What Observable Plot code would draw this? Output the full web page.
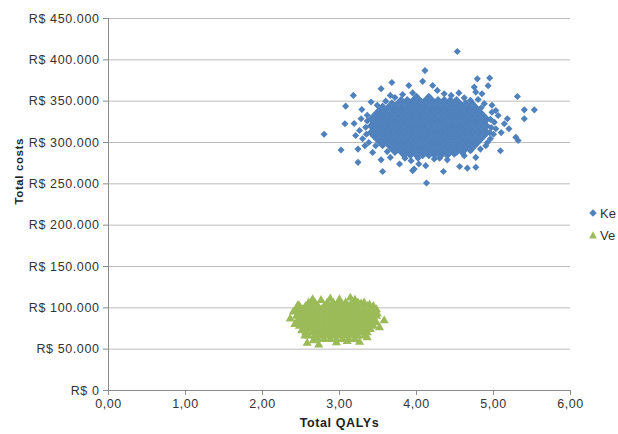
<!DOCTYPE html>
<html><head><meta charset="utf-8">
<script src="https://cdn.jsdelivr.net/npm/d3@7"></script>
<script src="https://cdn.jsdelivr.net/npm/@observablehq/plot@0.6"></script>
<style>
html,body{margin:0;padding:0;background:#fff;overflow:hidden;width:618px;height:434px}
#wrap{position:relative;width:618px;height:434px;overflow:hidden}
.legend{position:absolute;left:588px;font:13px "Liberation Sans",Arial,sans-serif;color:#333;white-space:nowrap;display:flex;align-items:center;height:14px}
.legend svg{margin-right:2px;flex:none}
</style></head><body><div id="wrap"></div>
<script>
const seriesNames = ["Ke", "Ve"];
const seriesColors = ["#4F81BD", "#9BBB59"];
const xTicks = [0, 1, 2, 3, 4, 5, 6];
const yTicks = [0, 50000, 100000, 150000, 200000, 250000, 300000, 350000, 400000, 450000];
const xTitle = "Total QALYs";
const yTitle = "Total costs";

// Series 1 (diamonds): dense core, rows of [cost, QALYs...]
const keCoreRows = [
 [352000, [3.80,3.88,3.96,4.04,4.12,4.20,4.28,4.36,4.44,4.52]],
 [348000, [3.68,3.76,3.84,3.92,4.00,4.08,4.16,4.24,4.32,4.40,4.48,4.56,4.64,4.72]],
 [344000, [3.56,3.64,3.72,3.80,3.88,3.96,4.04,4.12,4.20,4.28,4.36,4.44,4.52,4.60,4.68,4.76]],
 [340000, [3.52,3.60,3.68,3.76,3.84,3.92,4.00,4.08,4.16,4.24,4.32,4.40,4.48,4.56,4.64,4.72,4.80]],
 [336000, [3.48,3.56,3.64,3.72,3.80,3.88,3.96,4.04,4.12,4.20,4.28,4.36,4.44,4.52,4.60,4.68,4.76,4.84]],
 [332000, [3.44,3.52,3.60,3.68,3.76,3.84,3.92,4.00,4.08,4.16,4.24,4.32,4.40,4.48,4.56,4.64,4.72,4.80,4.88]],
 [328000, [3.40,3.48,3.56,3.64,3.72,3.80,3.88,3.96,4.04,4.12,4.20,4.28,4.36,4.44,4.52,4.60,4.68,4.76,4.84,4.92]],
 [324000, [3.44,3.52,3.60,3.68,3.76,3.84,3.92,4.00,4.08,4.16,4.24,4.32,4.40,4.48,4.56,4.64,4.72,4.80,4.88]],
 [320000, [3.40,3.48,3.56,3.64,3.72,3.80,3.88,3.96,4.04,4.12,4.20,4.28,4.36,4.44,4.52,4.60,4.68,4.76,4.84,4.92]],
 [316000, [3.44,3.52,3.60,3.68,3.76,3.84,3.92,4.00,4.08,4.16,4.24,4.32,4.40,4.48,4.56,4.64,4.72,4.80,4.88]],
 [312000, [3.40,3.48,3.56,3.64,3.72,3.80,3.88,3.96,4.04,4.12,4.20,4.28,4.36,4.44,4.52,4.60,4.68,4.76,4.84,4.92]],
 [308000, [3.44,3.52,3.60,3.68,3.76,3.84,3.92,4.00,4.08,4.16,4.24,4.32,4.40,4.48,4.56,4.64,4.72,4.80,4.88]],
 [304000, [3.48,3.56,3.64,3.72,3.80,3.88,3.96,4.04,4.12,4.20,4.28,4.36,4.44,4.52,4.60,4.68,4.76,4.84]],
 [300000, [3.52,3.60,3.68,3.76,3.84,3.92,4.00,4.08,4.16,4.24,4.32,4.40,4.48,4.56,4.64,4.72,4.80]],
 [296000, [3.56,3.64,3.72,3.80,3.88,3.96,4.04,4.12,4.20,4.28,4.36,4.44,4.52,4.60,4.68,4.76]],
 [292000, [3.68,3.76,3.84,3.92,4.00,4.08,4.16,4.24,4.32,4.40,4.48,4.56,4.64,4.72]],
 [288000, [3.72,3.80,3.88,3.96,4.04,4.12,4.20,4.28,4.36,4.44,4.52,4.60]],
 [284000, [3.84,3.92,4.00,4.08,4.16,4.24,4.32,4.40]]
];
// Series 1 scattered points [QALYs, cost]
const keOuter = [
 [4.53,410000],[4.11,387000],[4.08,374000],[3.68,372500],[3.90,369000],[3.54,365000],
 [3.66,357000],[3.18,357000],[3.08,344000],[3.29,340000],[3.41,349000],[3.49,345000],
 [4.21,369000],[4.27,363000],[4.36,359000],[4.55,360000],[4.79,377000],[4.95,378000],
 [4.93,368600],[4.75,367000],[4.77,361000],[4.85,359000],[5.31,355600],[3.95,360000],
 [4.00,356000],[3.82,358000],[4.16,356000],[4.45,357000],[3.72,354500],[4.62,354000],
 [4.70,351000],[3.60,350000],[4.80,352000],[4.88,347000],[4.84,342000],[4.98,345000],
 [3.07,322600],[3.19,323000],[3.28,328700],[3.34,318500],[2.80,310000],[3.26,314500],
 [3.21,308500],[3.30,304500],[3.24,292000],[3.02,291000],[3.43,288000],[3.54,279000],
 [3.24,276000],[3.33,296000],[3.36,333000],[3.36,326000],[3.35,310000],[3.38,300000],
 [3.47,296000],[3.78,274000],[3.56,265000],[3.93,278000],[3.95,266000],[4.03,274000],
 [4.13,251000],[4.35,265000],[4.12,272000],[3.97,268000],[4.23,280000],[4.56,271000],
 [4.66,269000],[4.77,270000],[4.62,284000],[4.49,286000],[4.77,282000],[4.83,292000],
 [3.66,282000],[3.85,281000],[4.40,279000],[3.62,289000],[4.70,290000],[4.30,281000],
 [4.02,281000],[4.60,287000],[5.40,339500],[5.53,339500],[5.40,328700],[5.03,338700],
 [5.06,332700],[5.18,328700],[5.14,322600],[5.01,324600],[5.03,316600],[5.20,316600],
 [5.29,306400],[5.32,302400],[4.96,304500],[5.09,290000],[5.00,310000],[5.10,312000],
 [4.98,336600],[4.96,328000],[4.97,318000],[4.95,312000],[4.92,300000],[4.90,296000]
];

// Series 2 (triangles): dense core rows of [cost, QALYs...]
const veCoreRows = [
 [106000, [2.60,2.68,2.84,2.92,3.00,3.08,3.16,3.24,3.32]],
 [102000, [2.48,2.56,2.64,2.72,2.80,2.88,2.96,3.04,3.12,3.20,3.28,3.36,3.44]],
 [98000,  [2.44,2.52,2.60,2.68,2.76,2.84,2.92,3.00,3.08,3.16,3.24,3.32,3.40,3.48]],
 [94000,  [2.48,2.56,2.64,2.72,2.80,2.88,2.96,3.04,3.12,3.20,3.28,3.36,3.44]],
 [90000,  [2.44,2.52,2.60,2.68,2.76,2.84,2.92,3.00,3.08,3.16,3.24,3.32,3.40,3.48]],
 [86000,  [2.48,2.56,2.64,2.72,2.80,2.88,2.96,3.04,3.12,3.20,3.28,3.36,3.44]],
 [82000,  [2.44,2.52,2.60,2.68,2.76,2.84,2.92,3.00,3.08,3.16,3.24,3.32,3.40,3.48]],
 [78000,  [2.48,2.56,2.64,2.72,2.80,2.88,2.96,3.04,3.12,3.20,3.28,3.36,3.44]],
 [74000,  [2.52,2.60,2.68,2.76,2.84,2.92,3.00,3.08,3.16,3.24,3.32,3.40]],
 [70000,  [2.56,2.64,2.72,2.80,2.88,2.96,3.04,3.12,3.20,3.28,3.36]],
 [66000,  [2.60,2.68,2.76,2.84,2.92,3.00,3.08,3.16,3.24,3.32]],
 [62000,  [2.72,2.80,2.88,2.96,3.04,3.12,3.20]]
];
const veOuter = [
 [2.36,86700],[3.58,84700],[3.14,112000],[2.58,57200],[2.73,55300],[3.26,58400],
 [2.46,103000],[3.39,103700],[2.65,110000],[3.00,110000],[3.28,105000],[3.49,92800],
 [2.51,72600],[2.40,95000],[2.88,111000],[2.76,109000],[3.20,109500],[2.96,58000],
 [3.10,59500],[2.66,60500],[2.55,66000],[3.36,64000],[3.52,76000],[2.42,80000]
];

function buildRows(rows, outer, name) {
  const out = [];
  for (const [cost, qs] of rows) for (const q of qs) out.push({q, cost, name});
  for (const [q, cost] of outer) out.push({q, cost, name});
  return out;
}
const keData = buildRows(keCoreRows, keOuter, seriesNames[0]);
const veData = buildRows(veCoreRows, veOuter, seriesNames[1]);

const fmtCost = d => "R$ " + d3.format(",")(d).replace(/,/g, ".");
const fmtQ = d => d.toFixed(2).replace(".", ",");

const chart = Plot.plot({
  width: 618, height: 434,
  marginLeft: 108, marginRight: 48, marginTop: 18, marginBottom: 44,
  style: {fontFamily: '"Liberation Sans", Arial, sans-serif', fontSize: "12.5px", color: "#333", background: "#fff", letterSpacing: "0.6px"},
  x: {domain: [0, 6]},
  y: {domain: [0, 450000]},
  marks: [
    Plot.gridY(yTicks, {stroke: "#bcbcbc", strokeOpacity: 1}),
    Plot.axisY(yTicks, {tickSize: 5, tickPadding: 4, tickFormat: fmtCost, stroke: "#8c8c8c", fill: "#333", label: null}),
    Plot.axisX(xTicks, {tickSize: 5, tickPadding: 4, tickFormat: fmtQ, stroke: "#8c8c8c", fill: "#333", label: null}),
    Plot.ruleX([0], {stroke: "#8c8c8c"}),
    Plot.ruleY([0], {stroke: "#8c8c8c"}),
    Plot.dot(keData, {x: "q", y: "cost", symbol: "diamond2", r: 3.2, fill: seriesColors[0], stroke: "none"}),
    Plot.dot(veData, {x: "q", y: "cost", symbol: "triangle", r: 3.4, fill: seriesColors[1], stroke: "none"}),
    Plot.text([xTitle], {frameAnchor: "bottom", dy: 36, fontWeight: "bold", fontSize: 12.5, fill: "#222", letterSpacing: "0px"}),
    Plot.text([yTitle], {frameAnchor: "left", dx: -89, rotate: -90, fontWeight: "bold", fontSize: 11.5, fill: "#222", letterSpacing: "0px"})
  ]
});
const wrap = document.getElementById("wrap");
wrap.appendChild(chart);

const shapes = [
  '<svg width="10" height="10"><path d="M5,1.3L8.7,5L5,8.7L1.3,5Z" fill="' + seriesColors[0] + '"/></svg>',
  '<svg width="10" height="10"><path d="M5,1.3L8.9,8.6L1.1,8.6Z" fill="' + seriesColors[1] + '"/></svg>'
];
const tops = [206, 228];
seriesNames.forEach((n, i) => {
  const d = document.createElement("div");
  d.className = "legend";
  d.style.top = tops[i] + "px";
  d.innerHTML = shapes[i] + "<span>" + n + "</span>";
  wrap.appendChild(d);
});
</script></body></html>
